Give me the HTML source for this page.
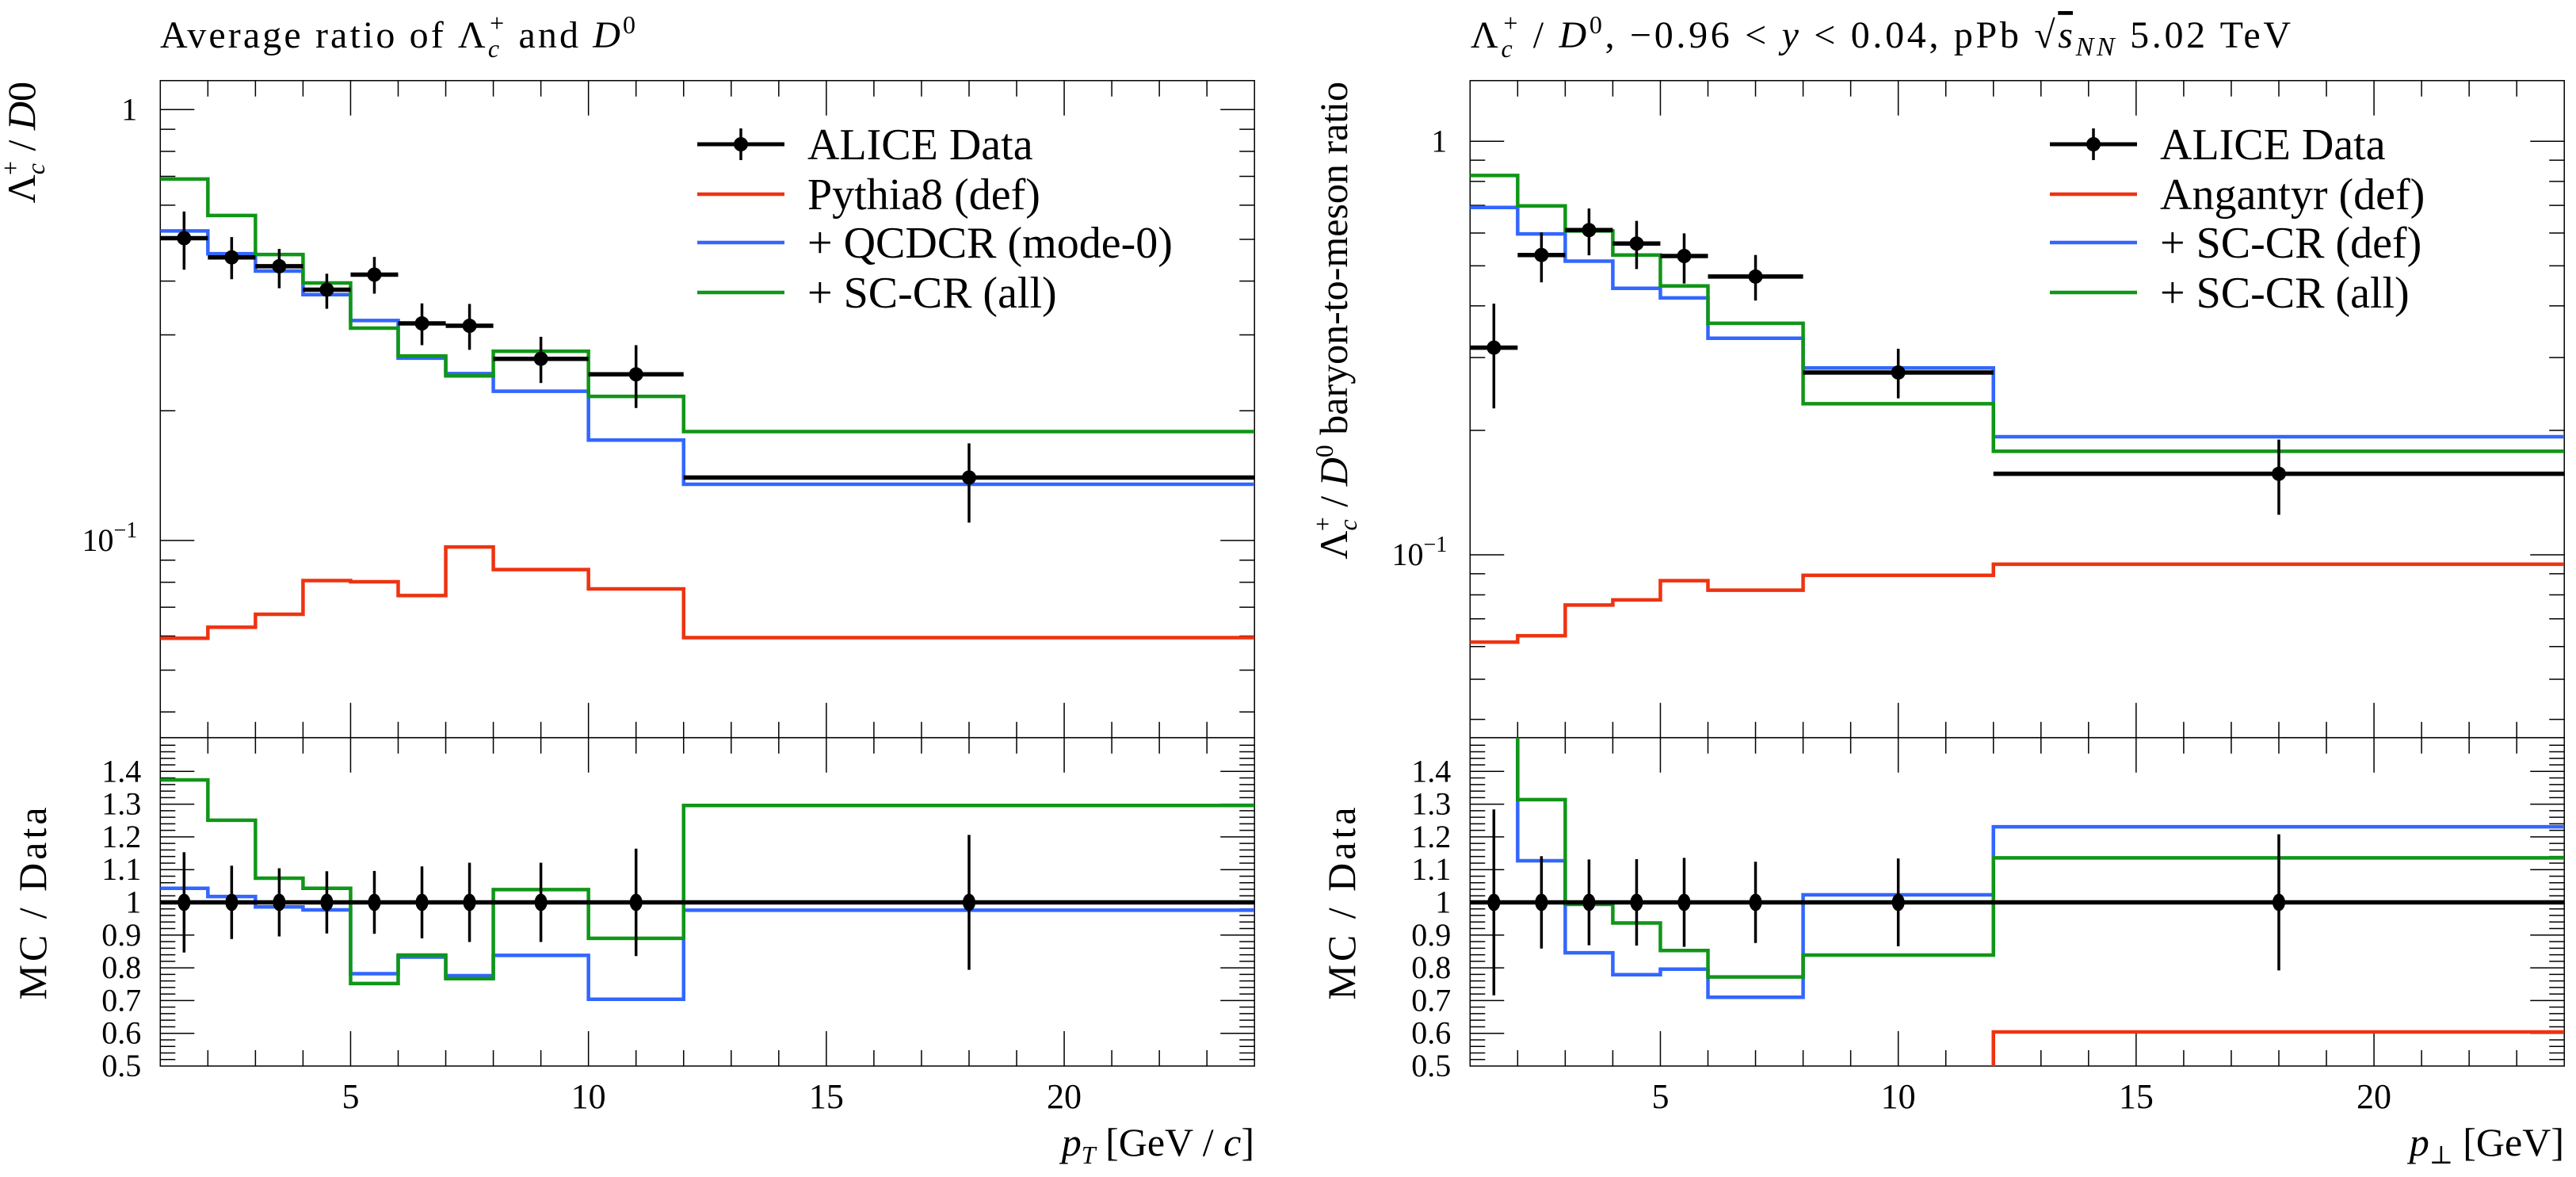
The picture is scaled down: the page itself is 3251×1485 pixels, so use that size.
<!DOCTYPE html>
<html><head><meta charset="utf-8"><style>
html,body{margin:0;padding:0;background:#fff;}
svg{display:block;font-family:"Liberation Serif","DejaVu Serif",serif;}
</style></head><body>
<svg id="chart" xmlns="http://www.w3.org/2000/svg" width="3251" height="1485" viewBox="0 0 3251 1485">
<rect x="0" y="0" width="3251" height="1485" fill="#fff"/>
<text x="202" y="60" font-size="48" textLength="600" lengthAdjust="spacing">Average ratio of Λ<tspan font-style="italic" font-size="32" dy="12">c</tspan><tspan font-size="32" dx="-15" dy="-32">+</tspan><tspan dy="20"> and </tspan><tspan font-style="italic">D</tspan><tspan font-size="32" dy="-18">0</tspan></text>
<text x="1856" y="60" font-size="48" textLength="1035" lengthAdjust="spacing">Λ<tspan font-style="italic" font-size="32" dy="12">c</tspan><tspan font-size="32" dx="-15" dy="-32">+</tspan><tspan dy="20"> / </tspan><tspan font-style="italic">D</tspan><tspan font-size="32" dy="-18">0</tspan><tspan dy="18">, −0.96 &lt; </tspan><tspan font-style="italic">y</tspan><tspan> &lt; 0.04, pPb √</tspan><tspan font-style="italic" text-decoration="overline">s</tspan><tspan font-style="italic" font-size="34" dy="10">NN</tspan><tspan dy="-10"> 5.02 TeV</tspan></text>
<text transform="translate(44,103) rotate(-90)" font-size="50" text-anchor="end">Λ<tspan font-style="italic" font-size="32" dy="12">c</tspan><tspan font-size="32" dx="-15" dy="-32">+</tspan><tspan dy="20"> / </tspan><tspan font-style="italic">D</tspan>0</text>
<text transform="translate(1700,103) rotate(-90)" font-size="50" text-anchor="end">Λ<tspan font-style="italic" font-size="32" dy="12">c</tspan><tspan font-size="32" dx="-15" dy="-32">+</tspan><tspan dy="20"> / </tspan><tspan font-style="italic">D</tspan><tspan font-size="32" dy="-18">0</tspan><tspan dy="18"> baryon-to-meson ratio</tspan></text>
<text transform="translate(58,1138) rotate(-90)" font-size="50" text-anchor="middle" letter-spacing="4">MC / Data</text>
<text transform="translate(1710,1138) rotate(-90)" font-size="50" text-anchor="middle" letter-spacing="4">MC / Data</text>
<text x="1583" y="1458" font-size="50" text-anchor="end"><tspan font-style="italic">p</tspan><tspan font-style="italic" font-size="32" dy="10">T</tspan><tspan dy="-10"> [GeV / </tspan><tspan font-style="italic">c</tspan>]</text>
<text x="3236" y="1458" font-size="50" text-anchor="end"><tspan font-style="italic">p</tspan><tspan font-size="32" dy="10">⊥</tspan><tspan dy="-10"> [GeV]</tspan></text>
<g id="plots"></g>
</svg>
<script>
// ---- Left panel data ----
const L_edges = [1,2,3,4,5,6,7,8,10,12,24];
const L_dataX = [1.5,2.5,3.5,4.5,5.5,6.5,7.5,9,11,18];
const L_data = [0.503,0.454,0.433,0.382,0.414,0.319,0.315,0.264,0.243,0.140];
const L_dataHi = [0.58,0.506,0.475,0.416,0.455,0.355,0.354,0.297,0.284,0.168];
const L_dataLo = [0.425,0.404,0.385,0.345,0.374,0.284,0.277,0.232,0.203,0.110];
const L_red = [0.0593,0.0629,0.0674,0.0807,0.0802,0.0745,0.0966,0.0856,0.0772,0.0595];
const L_blue = [0.523,0.463,0.422,0.372,0.324,0.265,0.244,0.222,0.171,0.135];
const L_green = [0.690,0.568,0.461,0.396,0.311,0.268,0.241,0.275,0.216,0.179];
const L_ratioRed = [0.118,0.139,0.156,0.211,0.194,0.234,0.307,0.324,0.318,0.425];
const L_ratioBlue = [1.043,1.018,0.986,0.977,0.782,0.833,0.776,0.838,0.704,0.976];
const L_ratioGreen = [1.374,1.251,1.074,1.043,0.752,0.839,0.767,1.039,0.890,1.296];
const L_ratioErr = [0.153,0.112,0.104,0.095,0.096,0.110,0.121,0.121,0.164,0.206];
const L_legend = ["ALICE Data","Pythia8 (def)","+ QCDCR (mode-0)","+ SC-CR (all)"];
// ---- Right panel data ----
const R_edges = [1,2,3,4,5,6,8,12,24];
const R_dataX = [1.5,2.5,3.5,4.5,5.5,7,10,18];
const R_data = [0.317,0.531,0.610,0.566,0.528,0.471,0.276,0.157];
const R_dataHi = [0.405,0.602,0.688,0.642,0.599,0.531,0.315,0.190];
const R_dataLo = [0.226,0.456,0.530,0.491,0.453,0.412,0.239,0.125];
const R_red = [0.0615,0.0637,0.0756,0.0778,0.0866,0.0821,0.0892,0.0949];
const R_blue = [0.692,0.597,0.513,0.441,0.418,0.334,0.283,0.193];
const R_green = [0.827,0.698,0.607,0.531,0.447,0.363,0.232,0.178];
const R_ratioRed = [0.194,0.120,0.124,0.137,0.164,0.174,0.323,0.604];
const R_ratioBlue = [2.18,1.127,0.846,0.779,0.796,0.710,1.023,1.231];
const R_ratioGreen = [2.61,1.314,0.994,0.937,0.853,0.772,0.839,1.136];
const R_ratioErr = [0.284,0.141,0.131,0.132,0.136,0.124,0.134,0.208];
const R_legend = ["ALICE Data","Angantyr (def)","+ SC-CR (def)","+ SC-CR (all)"];
const xTickLabels = [5,10,15,20];
const ratioTickLabels = ["0.5","0.6","0.7","0.8","0.9","1","1.1","1.2","1.3","1.4"];

const NS = "http://www.w3.org/2000/svg";
const RED="#ee3311", BLUE="#3366ff", GREEN="#109618";
const root = document.getElementById('plots');
function mk(tag, attrs, parent){
  const e=document.createElementNS(NS,tag);
  for(const k in attrs) e.setAttribute(k,attrs[k]);
  (parent||root).appendChild(e); return e;
}
const TOP=101.7, MID=930.7, BOT=1345;

function drawPanel(p){
  const g = mk('g',{});
  
  
  const X0=p.x0, X1=p.x0+23*60.04;
  const xs = v => X0+(v-1)*60.04;
  const ym = v => p.y1 - p.dec*Math.log10(v);
  const yr = v => BOT-(v-0.5)*413;
  const cid = p.name+'-clipm', cid2=p.name+'-clipr';
  const defs=mk('defs',{},g);
  const c1=mk('clipPath',{id:cid},defs); mk('rect',{x:X0,y:TOP,width:X1-X0,height:MID-TOP},c1);
  const c2=mk('clipPath',{id:cid2},defs); mk('rect',{x:X0,y:MID,width:X1-X0,height:BOT-MID},c2);
  const f1=mk('rect',{x:X0,y:TOP,width:X1-X0,height:MID-TOP,fill:'none',stroke:'#000','stroke-width':1.5},g);
  
  
  const f2=mk('rect',{x:X0,y:MID,width:X1-X0,height:BOT-MID,fill:'none',stroke:'#000','stroke-width':1.5},g);
  
  
  let d='';
  for(let v=2; v<24; v++){
    const L = (v%5===0)?44:20, x=xs(v);
    d+=`M${x},${TOP}v${L}M${x},${MID}v${-L}M${x},${MID}v${L}M${x},${BOT}v${-L}`;
  }
  for(let e=-2;e<=0;e++){
    for(let m=1;m<10;m++){
      const v=m*Math.pow(10,e), y=ym(v);
      if(y<TOP+1||y>MID-1) continue;
      const L=(m===1)?43:19;
      d+=`M${X0},${y}h${L}M${X1},${y}h${-L}`;
    }
  }
  for(let i=1;i<50;i++){
    const v=0.5+i*0.02, y=yr(v);
    if(y<MID+1) continue;
    const L=(i%5===0)?43:19;
    d+=`M${X0},${y}h${L}M${X1},${y}h${-L}`;
  }
  const tk=mk('path',{d:d,stroke:'#000','stroke-width':1.5,fill:'none'},g);
  
  
  const t1=mk('text',{x:X0-29,y:ym(1)+13,'font-size':40,'text-anchor':'end'},g); t1.textContent='1';
  
  
  const t2=mk('text',{x:X0-29,y:ym(0.1)+13,'font-size':40,'text-anchor':'end'},g);
  
  
  t2.innerHTML='10<tspan font-size="28" dy="-17">−1</tspan>';
  ratioTickLabels.forEach(s=>{
    const t=mk('text',{x:X0-24,y:yr(parseFloat(s))+13,'font-size':40,'text-anchor':'end'},g);
    t.textContent=s;
    
    
  });
  xTickLabels.forEach(v=>{
    const t=mk('text',{x:xs(v),y:1398,'font-size':44,'text-anchor':'middle'},g);
    t.textContent=String(v);
    
    
  });
  function hist(vals, yf, col, clip, nm){
    let s='';
    for(let i=0;i<vals.length;i++){
      const y=yf(vals[i]);
      s += (i===0?`M${xs(p.edges[0])},${y}`:`V${y}`)+`H${xs(p.edges[i+1])}`;
    }
    const e=mk('path',{d:s,fill:'none',stroke:col,'stroke-width':4.5,'clip-path':`url(#${clip})`},g);
    
    
  }
  hist(p.red, ym, RED, cid, p.name+'-red-line');
  hist(p.blue, ym, BLUE, cid, p.name+'-blue-line');
  hist(p.green, ym, GREEN, cid, p.name+'-green-line');
  hist(p.rRed, yr, RED, cid2, p.name+'-ratio-red-line');
  hist(p.rBlue, yr, BLUE, cid2, p.name+'-ratio-blue-line');
  hist(p.rGreen, yr, GREEN, cid2, p.name+'-ratio-green-line');
  const ref=mk('line',{x1:X0,x2:X1,y1:yr(1),y2:yr(1),stroke:'#000','stroke-width':5.5},g);
  
  
  for(let i=0;i<p.data.length;i++){
    const x=xs(p.dataX[i]), xa=xs(p.edges[i]), xb=xs(p.edges[i+1]);
    const y=ym(p.data[i]);
    const dg=mk('g',{},g);
    
    
    mk('line',{x1:xa,x2:xb,y1:y,y2:y,stroke:'#000','stroke-width':5.5},dg);
    mk('line',{x1:x,x2:x,y1:ym(p.hi[i]),y2:ym(p.lo[i]),stroke:'#000','stroke-width':3.5},dg);
    mk('circle',{cx:x,cy:y,r:9,fill:'#000'},dg);
    const rg=mk('g',{},g);
    
    
    mk('line',{x1:x,x2:x,y1:yr(1+p.rErr[i]),y2:yr(1-p.rErr[i]),stroke:'#000','stroke-width':3.5},rg);
    mk('ellipse',{cx:x,cy:yr(1),rx:8,ry:11,fill:'#000'},rg);
  }
  const cols=['#000',RED,BLUE,GREEN], rows=[182,245,306,369];
  p.legend.forEach((s,i)=>{
    const lg=mk('g',{},g);
    
    
    const lx=p.legX, y=rows[i];
    mk('line',{x1:lx,x2:lx+110,y1:y,y2:y,stroke:cols[i],'stroke-width':i===0?5:4.5},lg);
    if(i===0){
      mk('line',{x1:lx+55,x2:lx+55,y1:y-20,y2:y+20,stroke:'#000','stroke-width':3.5},lg);
      mk('circle',{cx:lx+55,cy:y,r:9,fill:'#000'},lg);
    }
    const t=mk('text',{x:lx+139,y:y+19,'font-size':56},lg); t.textContent=s;
  });
}
drawPanel({name:'left',x0:202.3,y1:138.3,dec:543.6,edges:L_edges,dataX:L_dataX,data:L_data,hi:L_dataHi,lo:L_dataLo,
  red:L_red,blue:L_blue,green:L_green,rRed:L_ratioRed,rBlue:L_ratioBlue,rGreen:L_ratioGreen,rErr:L_ratioErr,legend:L_legend,legX:880});
drawPanel({name:'right',x0:1855.3,y1:178.3,dec:521.7,edges:R_edges,dataX:R_dataX,data:R_data,hi:R_dataHi,lo:R_dataLo,
  red:R_red,blue:R_blue,green:R_green,rRed:R_ratioRed,rBlue:R_ratioBlue,rGreen:R_ratioGreen,rErr:R_ratioErr,legend:R_legend,legX:2587});
</script>
</body></html>
